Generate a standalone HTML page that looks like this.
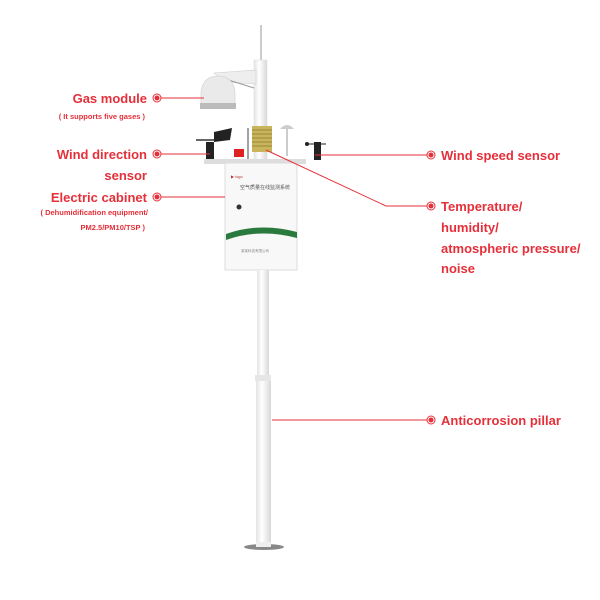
<!DOCTYPE html>
<html><head><style>body{margin:0;background:#fff}svg{display:block}</style></head><body>
<svg width="600" height="600" xmlns="http://www.w3.org/2000/svg" font-family="Liberation Sans, sans-serif">
<defs>
<linearGradient id="p" x1="0" x2="1"><stop offset="0" stop-color="#e4e4e4"/><stop offset=".4" stop-color="#fff"/><stop offset="1" stop-color="#d8d8d8"/></linearGradient>
</defs>
<!-- antenna -->
<line x1="261" y1="25" x2="261" y2="62" stroke="#bbb" stroke-width="1.5"/>
<!-- upper pole -->
<rect x="254" y="60" width="13" height="105" fill="url(#p)" stroke="#ddd" stroke-width=".5"/>
<!-- gas arm -->
<polygon points="214,73 256,70 256,84 225,82" fill="#eee" stroke="#ccc" stroke-width=".6"/>
<line x1="222" y1="78" x2="254" y2="88" stroke="#999" stroke-width="1"/>
<!-- dome -->
<path d="M201,108 L201,92 Q203,76 218,76 Q233,76 235,92 L235,108 Z" fill="#eaeaea" stroke="#ccc" stroke-width=".6"/>
<rect x="200" y="103" width="36" height="6" fill="#bbb"/>
<!-- sensors on bar -->
<rect x="206" y="142" width="8" height="20" fill="#222"/>
<line x1="196" y1="140" x2="222" y2="140" stroke="#333" stroke-width="1.5"/>
<polygon points="214,132 232,128 230,140 214,142" fill="#222"/>
<rect x="234" y="149" width="10" height="8" fill="#d22"/>
<line x1="248" y1="128" x2="248" y2="160" stroke="#444" stroke-width="1"/>
<rect x="252" y="126" width="20" height="26" fill="#c8b45a"/>
<g stroke="#8a7a30" stroke-width=".8"><line x1="252" y1="130" x2="272" y2="130"/><line x1="252" y1="134" x2="272" y2="134"/><line x1="252" y1="138" x2="272" y2="138"/><line x1="252" y1="142" x2="272" y2="142"/><line x1="252" y1="146" x2="272" y2="146"/></g>
<path d="M280,129 Q287,121 294,129 Z" fill="#ccc"/>
<line x1="287" y1="129" x2="287" y2="156" stroke="#bbb" stroke-width="1.5"/>
<rect x="314" y="142" width="7" height="18" fill="#222"/>
<circle cx="307" cy="144" r="2" fill="#222"/><line x1="307" y1="144" x2="326" y2="144" stroke="#222"/>
<rect x="204" y="159" width="102" height="5" fill="#ddd"/>
<!-- cabinet -->
<rect x="225" y="163" width="72" height="107" fill="#f8f8f8" stroke="#ddd"/>
<text x="231" y="178" font-size="4" fill="#b33">▶ logo</text>
<text x="240" y="189" font-size="5" fill="#555">空气质量在线监测系统</text>
<circle cx="239" cy="207" r="2.5" fill="#333"/>
<path d="M226,234 Q260,222 297,232 L297,238 Q260,228 226,240 Z" fill="#2a7a3e"/>
<text x="241" y="252" font-size="3.5" fill="#888">某某科技有限公司</text>
<!-- lower pole -->
<rect x="257" y="270" width="12" height="105" fill="url(#p)"/>
<rect x="255" y="375" width="16" height="6" fill="#e6e6e6"/>
<rect x="256" y="381" width="15" height="165" fill="url(#p)"/>
<ellipse cx="264" cy="547" rx="20" ry="3" fill="#888"/>
<rect x="256" y="542" width="15" height="5" fill="#eee"/>
<!-- leaders -->
<g stroke="#e5303a" stroke-width="1" fill="none">
<line x1="160" y1="98" x2="204" y2="98"/>
<line x1="160" y1="154" x2="210" y2="154"/>
<line x1="160" y1="197" x2="225" y2="197"/>
<line x1="315" y1="155" x2="428" y2="155"/>
<polyline points="266,150 386,206 428,206"/>
<line x1="272" y1="420" x2="428" y2="420"/>
</g>
<g fill="#e5303a">
<circle cx="157" cy="98" r="4" fill="#fff" stroke="#e5303a"/><circle cx="157" cy="98" r="2.5"/>
<circle cx="157" cy="154" r="4" fill="#fff" stroke="#e5303a"/><circle cx="157" cy="154" r="2.5"/>
<circle cx="157" cy="197" r="4" fill="#fff" stroke="#e5303a"/><circle cx="157" cy="197" r="2.5"/>
<circle cx="431" cy="155" r="4" fill="#fff" stroke="#e5303a"/><circle cx="431" cy="155" r="2.5"/>
<circle cx="431" cy="206" r="4" fill="#fff" stroke="#e5303a"/><circle cx="431" cy="206" r="2.5"/>
<circle cx="431" cy="420" r="4" fill="#fff" stroke="#e5303a"/><circle cx="431" cy="420" r="2.5"/>
</g>
<g fill="#e5303a" font-weight="bold">
<g text-anchor="end" font-size="13">
<text x="147" y="103">Gas module</text>
<text x="147" y="159">Wind direction</text>
<text x="147" y="180">sensor</text>
<text x="147" y="202">Electric cabinet</text>
</g>
<g text-anchor="end" font-size="7.5">
<text x="145" y="119">( It supports five gases )</text>
<text x="148" y="215">( Dehumidification equipment/</text>
<text x="145" y="230">PM2.5/PM10/TSP )</text>
</g>
<g font-size="13">
<text x="441" y="160">Wind speed sensor</text>
<text x="441" y="211">Temperature/</text>
<text x="441" y="232">humidity/</text>
<text x="441" y="253">atmospheric pressure/</text>
<text x="441" y="273">noise</text>
<text x="441" y="425">Anticorrosion pillar</text>
</g>
</g>
</svg>
</body></html>
